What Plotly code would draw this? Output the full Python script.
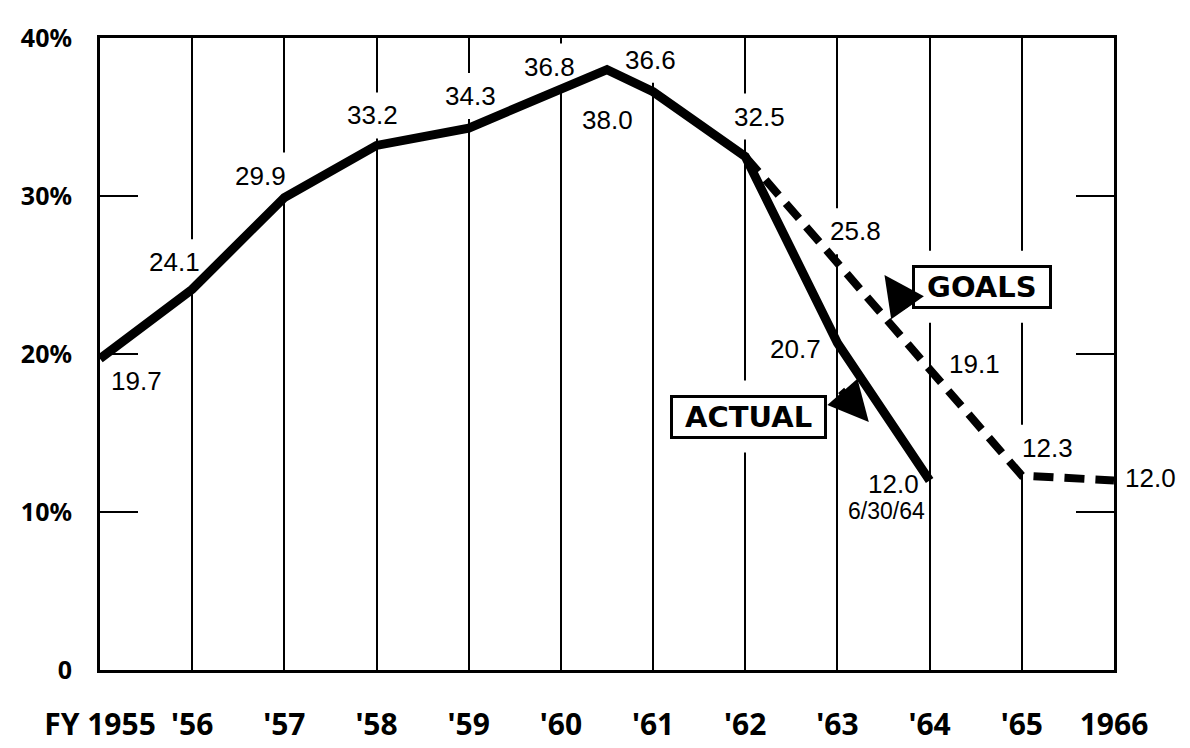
import plotly.graph_objects as go

# ---- data ----
YEARS = [1955, 1956, 1957, 1958, 1959, 1960, 1961, 1962, 1963, 1964, 1965, 1966]
YEAR_LABELS = ["FY 1955", "'56", "'57", "'58", "'59", "'60", "'61", "'62", "'63", "'64", "'65", "1966"]

ACTUAL_YEARS = [1955, 1956, 1957, 1958, 1959, 1960, 1960.5, 1961, 1962, 1963, 1964]
ACTUAL_VALUES = [19.7, 24.1, 29.9, 33.2, 34.3, 36.8, 38.0, 36.6, 32.5, 20.7, 12.0]

GOAL_YEARS = [1962, 1963, 1964, 1965, 1966]
GOAL_VALUES = [32.5, 25.8, 19.1, 12.3, 12.0]

Y_TICKS = [0, 10, 20, 30, 40]
Y_TICK_LABELS = ["0", "10%", "20%", "30%", "40%"]

ACTUAL_DATE_NOTE = "6/30/64"

# ---- styling (label offsets in pixels, not data) ----
ACTUAL_LABEL_SHIFTS = [(36, -22), (-18, 27), (-24, 22), (-4, 30), (2, 32), (-11, 22),
                       (0, -50), (-3, 32), (14, 40), (-42, -6), (-36, -4)]
GOAL_LABEL_SHIFTS = [None, (18, 31), (45, 4), (26, 28), (36, 2)]

NUM_FONT = dict(family="Liberation Sans, Arial, sans-serif", size=26, color="black")
TICK_FONT = dict(family="Noto Sans, DejaVu Sans, sans-serif", size=30, color="black", weight="bold")
YTICK_FONT = dict(family="Noto Sans, DejaVu Sans, sans-serif", size=25, color="black", weight="bold")
BOX_FONT = dict(family="DejaVu Sans, sans-serif", size=29, color="black", weight="bold")

LABEL_GAP_W, LABEL_GAP_H = 54, 46   # white gap cut into grid lines behind each number

fig = go.Figure()

fig.add_trace(go.Scatter(
    x=GOAL_YEARS, y=GOAL_VALUES, mode="lines",
    line=dict(color="black", width=8, dash="20px,11px"),
    name="Goals", showlegend=False, hoverinfo="skip"))

fig.add_trace(go.Scatter(
    x=ACTUAL_YEARS, y=ACTUAL_VALUES, mode="lines",
    line=dict(color="black", width=9),
    name="Actual", showlegend=False, hoverinfo="skip"))

annotations = []
shapes = []


def gap(xv, yv, dx, dy, w, h):
    shapes.append(dict(type="rect", layer="between", xref="x", yref="y",
                       xsizemode="pixel", ysizemode="pixel", xanchor=xv, yanchor=yv,
                       x0=dx - w / 2, x1=dx + w / 2, y0=dy - h / 2, y1=dy + h / 2,
                       fillcolor="white", line=dict(width=0)))


def value_label(xv, yv, sh):
    annotations.append(dict(x=xv, y=yv, xref="x", yref="y", text=f"{yv:.1f}",
                            showarrow=False, xshift=sh[0], yshift=sh[1], font=NUM_FONT))
    gap(xv, yv, sh[0], sh[1], LABEL_GAP_W, LABEL_GAP_H)


for xv, yv, sh in zip(ACTUAL_YEARS, ACTUAL_VALUES, ACTUAL_LABEL_SHIFTS):
    value_label(xv, yv, sh)
for xv, yv, sh in zip(GOAL_YEARS, GOAL_VALUES, GOAL_LABEL_SHIFTS):
    if sh is not None:
        value_label(xv, yv, sh)

# date note under the last actual value
annotations.append(dict(x=ACTUAL_YEARS[-1], y=ACTUAL_VALUES[-1], xref="x", yref="y",
                        text=ACTUAL_DATE_NOTE, showarrow=False, xshift=-43, yshift=-31,
                        font=dict(NUM_FONT, size=23)))
gap(ACTUAL_YEARS[-1], ACTUAL_VALUES[-1], -43, -31, 84, 26)

# boxed legend labels
annotations.append(dict(x=1964.57, y=24.25, xref="x", yref="y", text="\u00a0GOALS\u00a0",
                        showarrow=False, font=BOX_FONT, bgcolor="white",
                        bordercolor="black", borderwidth=3, borderpad=2))
gap(1964.57, 24.25, 0, 0, 140, 72)
annotations.append(dict(x=1962.03, y=16.04, xref="x", yref="y", text="\u00a0ACTUAL\u00a0",
                        showarrow=False, font=BOX_FONT, bgcolor="white",
                        bordercolor="black", borderwidth=3, borderpad=2))
gap(1962.03, 16.04, 0, 0, 160, 72)

# pointer arrows
annotations.append(dict(x=1963.51, y=25.0, xref="x", yref="y", text="",
                        showarrow=True, ax=24, ay=34, arrowhead=2, arrowsize=1.0,
                        arrowwidth=8, arrowcolor="black"))
annotations.append(dict(x=1963.34, y=15.7, xref="x", yref="y", text="",
                        showarrow=True, ax=-29, ay=-33, arrowhead=2, arrowsize=1.0,
                        arrowwidth=8, arrowcolor="black"))

fig.update_layout(
    width=1190, height=748,
    margin=dict(l=92, r=84, t=20, b=75),
    paper_bgcolor="white", plot_bgcolor="white",
    annotations=annotations, shapes=shapes,
    showlegend=False,
)

fig.update_xaxes(
    range=[1955, 1966], tickmode="array", tickvals=YEARS, ticktext=YEAR_LABELS,
    showgrid=True, gridcolor="black", gridwidth=2,
    showline=True, linecolor="black", linewidth=3, mirror=True,
    ticks="", tickfont=TICK_FONT, ticklabelstandoff=26, zeroline=False,
)
fig.update_yaxes(
    range=[0, 40], tickmode="array", tickvals=Y_TICKS, ticktext=Y_TICK_LABELS,
    showgrid=False, showline=True, linecolor="black", linewidth=3, mirror="ticks",
    ticks="inside", ticklen=38, tickwidth=2, tickcolor="black",
    tickfont=YTICK_FONT, ticklabelstandoff=20,
    zeroline=True, zerolinecolor="black", zerolinewidth=6,
)

fig.write_html("out.html")
